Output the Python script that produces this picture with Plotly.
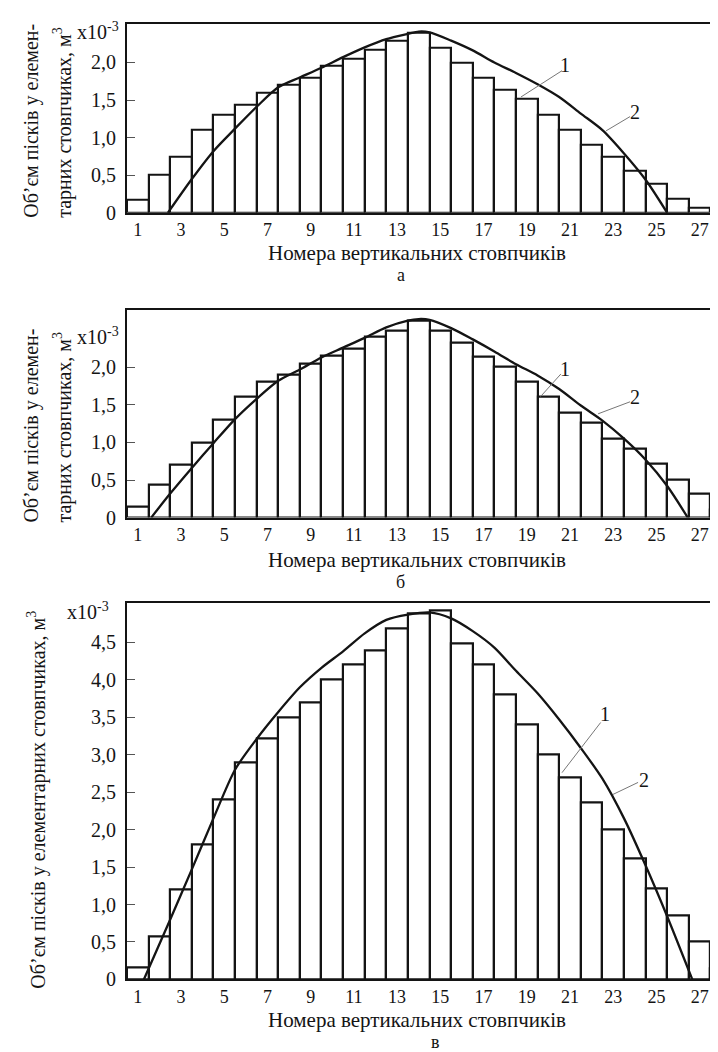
import plotly.graph_objects as go

# ---------------- data ----------------
bar_numbers_a = list(range(1, 28))
bars_a = [0.17, 0.50, 0.75, 1.10, 1.30, 1.43, 1.60, 1.70, 1.80, 1.95, 2.05, 2.17, 2.29, 2.40,
          2.19, 2.00, 1.80, 1.64, 1.51, 1.30, 1.10, 0.91, 0.75, 0.56, 0.38, 0.18, 0.06]
curve_a_x = [2.39, 3.5, 4.5, 5.5, 6.5, 7.5, 8.5, 9.5, 10.5, 11.5, 12.5, 13.5, 14.0, 14.5,
             15.5, 16.5, 17.5, 18.5, 19.5, 20.5, 21.5, 22.5, 23.5, 24.5, 25.5]
curve_a_y = [0.0, 0.45, 0.82, 1.12, 1.41, 1.67, 1.80, 1.93, 2.07, 2.20, 2.31, 2.38, 2.41, 2.40,
             2.29, 2.16, 2.00, 1.86, 1.71, 1.54, 1.32, 1.10, 0.79, 0.44, 0.0]

bar_numbers_b = list(range(1, 29))
bars_b = [0.14, 0.44, 0.70, 1.00, 1.30, 1.60, 1.80, 1.90, 2.05, 2.15, 2.25, 2.40, 2.49, 2.62,
          2.49, 2.32, 2.14, 2.00, 1.80, 1.60, 1.40, 1.26, 1.05, 0.91, 0.71, 0.50, 0.32, 0.11]
curve_b_x = [1.62, 2.5, 3.5, 4.5, 5.5, 6.5, 7.5, 8.5, 9.5, 10.5, 11.5, 12.5, 13.5, 14.0, 14.5,
             15.5, 16.5, 17.5, 18.5, 19.5, 20.5, 21.5, 22.5, 23.5, 24.5, 25.5, 26.45]
curve_b_y = [0.0, 0.32, 0.66, 0.99, 1.31, 1.58, 1.82, 1.97, 2.13, 2.26, 2.39, 2.53, 2.62, 2.64, 2.63,
             2.52, 2.37, 2.21, 2.04, 1.89, 1.71, 1.49, 1.29, 1.05, 0.77, 0.42, 0.0]

bar_numbers_v = list(range(1, 29))
bars_v = [0.16, 0.57, 1.20, 1.80, 2.40, 2.90, 3.22, 3.50, 3.70, 4.00, 4.20, 4.39, 4.69, 4.89,
          4.92, 4.49, 4.20, 3.80, 3.40, 3.00, 2.70, 2.36, 2.00, 1.61, 1.21, 0.86, 0.51, 0.15]
curve_v_x = [1.28, 2.5, 3.5, 4.5, 5.5, 6.5, 7.5, 8.5, 9.5, 10.5, 11.5, 12.5, 13.5, 14.5,
             15.5, 16.5, 17.5, 18.5, 19.5, 20.5, 21.5, 22.5, 23.5, 24.5, 25.5, 26.66]
curve_v_y = [0.0, 0.80, 1.47, 2.15, 2.80, 3.21, 3.57, 3.90, 4.16, 4.38, 4.62, 4.80, 4.87, 4.90,
             4.82, 4.65, 4.43, 4.12, 3.82, 3.47, 3.09, 2.68, 2.15, 1.52, 0.84, 0.0]

x_tick_vals = list(range(1, 28, 2))
x_tick_text = [str(v) for v in x_tick_vals]
y_tick_vals_ab = [0, 0.5, 1.0, 1.5, 2.0]
y_tick_text_ab = ["0", "0,5", "1,0", "1,5", "2,0"]
y_tick_vals_v = [0, 0.5, 1.0, 1.5, 2.0, 2.5, 3.0, 3.5, 4.0, 4.5]
y_tick_text_v = ["0", "0,5", "1,0", "1,5", "2,0", "2,5", "3,0", "3,5", "4,0", "4,5"]

x_title = "Номера вертикальних стовпчиків"
y_title_1 = "Об’єм пісків у елемен-"
y_title_2 = "тарних стовпчиках, м<sup>3</sup>"
y_title_full = "Об’єм пісків у елементарних стовпчиках, м<sup>3</sup>"
panel_labels = ["а", "б", "в"]
scale_label = "x10<sup>-3</sup>"

# ---------------- layout helpers ----------------
W, H = 718, 1052
FONT = "'Liberation Serif', 'Times New Roman', 'DejaVu Serif', serif"
INK = "#141414"


def px(xp):
    return xp / W


def py(yp):
    return 1 - yp / H


fig = go.Figure()

panels = [
    ("x", "y", bar_numbers_a, bars_a, curve_a_x, curve_a_y),
    ("x2", "y2", bar_numbers_b, bars_b, curve_b_x, curve_b_y),
    ("x3", "y3", bar_numbers_v, bars_v, curve_v_x, curve_v_y),
]
for xa, ya, xs, ys, cx, cy in panels:
    fig.add_trace(go.Bar(x=xs, y=ys, width=1, xaxis=xa, yaxis=ya,
                         marker=dict(color="white", line=dict(color=INK, width=2.2)),
                         showlegend=False, hoverinfo="skip"))
    fig.add_trace(go.Scatter(x=cx, y=cy, mode="lines", xaxis=xa, yaxis=ya,
                             line=dict(color=INK, width=2.3, shape="spline", smoothing=0.8),
                             showlegend=False, hoverinfo="skip"))

xrange = [0.5, 28.22]
ax_common = dict(range=xrange, tickvals=x_tick_vals, ticktext=x_tick_text,
                 showline=True, linewidth=2, linecolor=INK, mirror=True,
                 ticks="", ticklen=0, showgrid=False, zeroline=False,
                 tickfont=dict(family=FONT, size=18, color=INK),
                 domain=[px(119), 1.0], fixedrange=True)
ay_common = dict(showline=True, linewidth=2, linecolor=INK, mirror=False,
                 ticks="inside", ticklen=8, tickwidth=1, tickcolor="#555",
                 showgrid=False, zeroline=False,
                 tickfont=dict(family=FONT, size=20, color=INK),
                 ticklabelstandoff=5, fixedrange=True)

fig.update_layout(
    width=W, height=H, margin=dict(l=0, r=0, t=0, b=0),
    paper_bgcolor="white", plot_bgcolor="white", bargap=0,
    xaxis=dict(ax_common, anchor="y"),
    yaxis=dict(ay_common, anchor="x", domain=[py(207), py(16)], range=[0, 2.513],
               tickvals=y_tick_vals_ab, ticktext=y_tick_text_ab),
    xaxis2=dict(ax_common, anchor="y2"),
    yaxis2=dict(ay_common, anchor="x2", domain=[py(515), py(305)], range=[0, 2.763],
                tickvals=y_tick_vals_ab, ticktext=y_tick_text_ab),
    xaxis3=dict(ax_common, anchor="y3"),
    yaxis3=dict(ay_common, anchor="x3", domain=[py(981.7), py(601.7)], range=[0, 5.02],
                tickvals=y_tick_vals_v, ticktext=y_tick_text_v),
)

ann = []


def text(x, y, t, size=20, angle=0, xanchor="center", yanchor="middle", xref="paper", yref="paper"):
    ann.append(dict(x=x, y=y, xref=xref, yref=yref, text=t, showarrow=False, textangle=angle,
                    xanchor=xanchor, yanchor=yanchor,
                    font=dict(family=FONT, size=size, color=INK)))


# y titles
text(px(24), py(114), y_title_1, angle=-90)
text(px(55), py(116), y_title_2, angle=-90)
text(px(24), py(422), y_title_1, angle=-90)
text(px(55), py(424), y_title_2, angle=-90)
text(px(29), py(800), y_title_full, angle=-90)

# x titles and panel letters
for yc, (lx, ly), lab in zip([248, 558, 1023], [(393, 270), (393, 580), (427, 1045)], panel_labels):
    text(px(409), py(yc), x_title, size=21)
    text(px(lx), py(ly), lab, size=18)

# scale labels
text(px(67), py(23), scale_label, size=20, xanchor="left")
text(px(67), py(331), scale_label, size=20, xanchor="left")
text(px(57), py(609), scale_label, size=20, xanchor="left")

# curve / histogram labels with leader lines
labels = [
    ("x", "y", (20.77, 1.97), (20.63, 1.89), (18.73, 1.54), (24.0, 1.34), (23.78, 1.28), (22.67, 1.09)),
    ("x2", "y2", (20.77, 1.97), (20.58, 1.91), (19.64, 1.61), (24.0, 1.61), (23.78, 1.54), (22.3, 1.38)),
    ("x3", "y3", (22.62, 3.55), (22.42, 3.43), (20.63, 2.76), (24.43, 2.66), (24.15, 2.63), (22.99, 2.47)),
]
shapes = []
for xa, ya, t1, l1a, l1b, t2, l2a, l2b in labels:
    text(t1[0], t1[1], "1", size=20, xref=xa, yref=ya)
    text(t2[0], t2[1], "2", size=20, xref=xa, yref=ya)
    for a, b in [(l1a, l1b), (l2a, l2b)]:
        shapes.append(dict(type="line", xref=xa, yref=ya, x0=a[0], y0=a[1], x1=b[0], y1=b[1],
                           line=dict(color="#777", width=1)))

fig.update_layout(annotations=ann, shapes=shapes)
fig.write_html("out.html")
